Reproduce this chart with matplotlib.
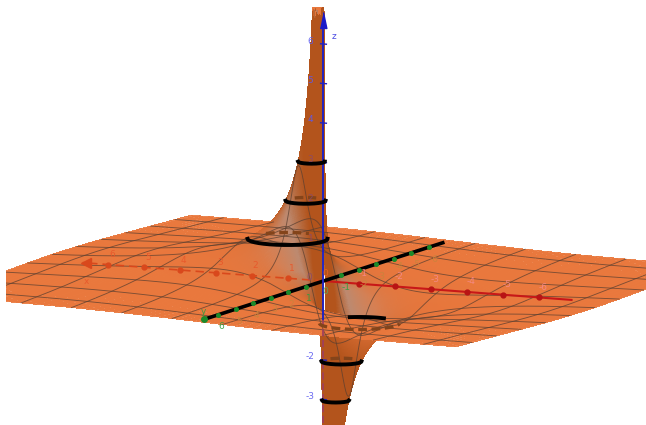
import numpy as np
import matplotlib
matplotlib.use("Agg")
import matplotlib.pyplot as plt
from matplotlib.patches import Rectangle
from matplotlib.transforms import IdentityTransform
from mpl_toolkits.mplot3d import proj3d

# profile: diameter of a level ring -> height of that ring
profile_d = [0.29, 0.33, 0.40, 0.50, 0.67, 1.00, 1.38, 2.00, 3.00, 4.00, 6.00, 8.00, 12.0, 20.0, 40.0, 4000.0]
profile_z = [6.90, 6.00, 5.00, 4.00, 3.00, 2.00, 1.45, 1.00, 0.67, 0.50, 0.33, 0.25, 0.17, 0.10, 0.05, 0.0005]

# black rings
ring_levels = [3, 2, 1, -1, -2, -3]
ring_diam = [0.67, 1.0, 2.0, 2.0, 1.0, 0.67]
ring_dashed = [False, True, True, True, True, False]

x_ticks = [6, 5, 4, 3, 2, 1, -1, -2, -3, -4, -5, -6]
y_ticks = [6, 5, 4, 3, 2, 1, -1, -2, -3, -4, -5, -6]
z_ticks = [6, 5, 4, 3, 2, 1, -2, -3]

half_side = 7.2
mesh_step = 1.4

fig = plt.figure(figsize=(6.46, 4.25), dpi=100)
ax = fig.add_axes([0, 0, 1, 1], projection="3d", computed_zorder=False)
ax.set_proj_type("ortho")
ax.view_init(elev=9, azim=116)
ax.set_box_aspect((1, 1, 1))
ax.set_axis_off()


def height(x, y):
    r2 = x * x + y * y
    with np.errstate(divide="ignore", invalid="ignore"):
        d = r2 / np.abs(x)
    d = np.where(np.isfinite(d), d, profile_d[-1])
    z = np.exp(np.interp(np.log(d), np.log(profile_d), np.log(profile_z)))
    return np.sign(x) * z


# concentric squares so the sheet has a clean edge and is fine close to the pole
rho = np.geomspace(0.012, 1, 170)
theta = np.linspace(0, 2 * np.pi, 361)
R, T = np.meshgrid(rho, theta)
sq = half_side / np.maximum(np.abs(np.cos(T)), np.abs(np.sin(T)))
X = R * sq * np.cos(T)
Y = R * sq * np.sin(T)
Z = height(X, Y)

# face colours from the normals
du = np.stack([np.gradient(X, axis=1), np.gradient(Y, axis=1), np.gradient(Z, axis=1)], -1)
dv = np.stack([np.gradient(X, axis=0), np.gradient(Y, axis=0), np.gradient(Z, axis=0)], -1)
N = np.cross(du, dv)
N /= np.linalg.norm(N, axis=-1, keepdims=True) + 1e-12
N *= np.sign(N[..., 2:3] + 1e-12)
view = np.array([np.cos(np.radians(116)), np.sin(np.radians(116)), 0.0])
right = np.array([-np.sin(np.radians(116)), np.cos(np.radians(116)), 0.0])
facing = np.clip(N @ view, -1, 1)[..., None]
steep = np.clip((1 - N[..., 2:3]) * 1.6, 0, 1)
flat_c = np.array([0.915, 0.47, 0.24])
dark_c = np.array([0.70, 0.33, 0.11])
pale_c = np.array([0.74, 0.54, 0.44])
# pale only on the moderate slopes, the tall spikes stay dark
mix = np.clip(facing * 1.5, 0, 1) * np.clip((N[..., 2:3] - 0.12) * 4, 0, 1)
side = dark_c * (1 - mix) + pale_c * mix
cols = flat_c * (1 - steep) + side * steep
cols = np.concatenate([cols, np.full(cols.shape[:2] + (1,), 0.9)], -1)

ax.plot_surface(X, Y, Z, facecolors=cols, rstride=1, cstride=1, linewidth=0,
                antialiased=False, shade=False, zorder=1)

# mesh lines
mesh = (np.arange(-5, 5) + 0.5) * mesh_step
s = np.linspace(-half_side, half_side, 400)
for m in mesh:
    ax.plot(m + 0 * s, s, height(m + 0 * s, s), color="#5a3f30", lw=0.65, alpha=0.75, zorder=2)
    ax.plot(s, m + 0 * s, height(s, m + 0 * s), color="#5a3f30", lw=0.65, alpha=0.75, zorder=2)

# labels are placed after the view is fitted
labels = []

# x axis
ax.plot([0, 6.7], [0, 0], [0, 0], color="#d9481c", lw=1.2, ls=(0, (5, 3)), zorder=3)
ax.plot([0, -6.9], [0, 0], [0, 0], color="#c81818", lw=1.5, zorder=3)
ax.plot([6.6], [0], [0], marker="<", ms=7, color="#d9481c", zorder=3)
for t in x_ticks:
    col = "#d9481c" if t > 0 else "#b81414"
    ax.plot([t], [0], [0], "o", ms=3.5, color=col, zorder=4)
    labels.append((t, 0, 0, str(t), 4, 10, "#e8562a" if t > 0 else "#f58a8a"))
labels.append((6.6, 0, 0, "x", 0, -19, "#e8562a"))

# y axis
ax.plot([0, 0], [6.9, -6.9], [0, 0], color="black", lw=2.6, solid_capstyle="butt", zorder=4)
for t in y_ticks:
    ax.plot([0], [t], [0], "o", ms=2.6, color="#1c8a2a", zorder=5)
    lab = "#2e9e3e" if t in (6, 1, -1) else "#c8843c"
    dy = -15 if t == -2 else (-8 if t == -4 else -12)
    labels.append((0, t, 0, str(t), 3 if t > 0 else 5, dy, lab))
ax.plot([0], [6.8], [0], "o", ms=4, color="#1c8a2a", zorder=5)
labels.append((0, 6.9, 0, "y", 1, 8, "#2e9e3e"))

# z axis
ax.plot([0, 0], [0, 0], [-1, 6.4], color="#2222c0", lw=1.4, zorder=5)
ax.plot([0, 0], [0, 0], [-3.6, -1], color="#a0405a", lw=1.3, ls=(0, (4, 2)), zorder=5)
ax.plot([0], [0], [6.6], marker=[(-0.42, -1), (0.42, -1), (0, 1)], ms=11.5, color="#1a1ac8", zorder=5)
for t in z_ticks:
    ax.plot([-0.08, 0.08], [0, 0], [t, t], color="#2222c0", lw=1.0, zorder=5)
    lab = "#5a5af0" if t > 3 or t < 0 else "#8a4a6a"
    labels.append((0, 0, t, str(t), -13, 3, lab))
labels.append((0, 0, 6.2, "z", 11, 0, "#3a3ae0"))
labels.append((0, 0, 0, "0", -14, 3, "#8a4a6a"))
labels.append((0, 0, 0, "0", 2, 7, "#f0601c"))
labels.append((0, 0, 0, "0", 2, -11, "#5aa860"))

# rings
t = np.linspace(0, 2 * np.pi, 300)
for lev, d, dashed in zip(ring_levels, ring_diam, ring_dashed):
    sign = np.sign(lev)
    rx = sign * d / 2 * (1 + np.cos(t))
    ry = d / 2 * np.sin(t)
    rz = lev + 0 * t
    a = np.arctan2(ry, rx - sign * d / 2)
    near = np.cos(a) * view[0] + np.sin(a) * view[1]
    across = np.cos(a) * right[0] + np.sin(a) * right[1]
    # order the points across the screen so a part of the ring plots as one line
    if lev == -1:
        solid = (near < 0) & (across > -0.25) & (across < 0.62)
        back = near > 0
    else:
        solid = near > 0
        back = (near < 0) & (np.abs(across) < 0.55)
    idx = np.where(solid)[0]
    idx = idx[np.argsort(across[idx])]
    ax.plot(rx[idx], ry[idx], rz[idx], color="black", lw=2.8, zorder=7)
    if dashed:
        idx = np.where(back)[0]
        idx = idx[np.argsort(across[idx])]
        ax.plot(rx[idx], ry[idx], rz[idx], color="#84441a", lw=2.4, ls=(0, (2.6, 1.4)), zorder=6)


# fit the view: 39.5 px per z unit, origin at pixel (323.5, 281)
def to_px(px, py, pz):
    a, b, _ = proj3d.proj_transform(px, py, pz, ax.get_proj())
    return ax.transData.transform((a, b))


L, cx, cz = 10.0, 0.0, 1.7
for i in range(8):
    ax.set_xlim(cx - L, cx + L)
    ax.set_ylim(-L, L)
    ax.set_zlim(cz - L, cz + L)
    ax.apply_aspect()
    o = to_px(0, 0, 0)
    u = to_px(0, 0, 1)
    L *= (u[1] - o[1]) / 39.5
    cz += (o[1] - (425 - 281)) / 39.5
    cx += (323.5 - o[0]) / 36

# picture is cut at the left margin and at the top of the spike
clip = Rectangle((6, 0), 640, 425, transform=IdentityTransform())
for art in ax.get_children():
    art.set_clip_path(clip)
    art.set_clip_on(True)

for lx, ly, lz, txt, dx, dy, col in labels:
    p = to_px(lx, ly, lz)
    fig.text((p[0] + dx) / 646, (p[1] + dy) / 425, txt, color=col, fontsize=6.5, ha="center", va="center", alpha=0.9)

fig.savefig("out.png", dpi=100, facecolor="white")
